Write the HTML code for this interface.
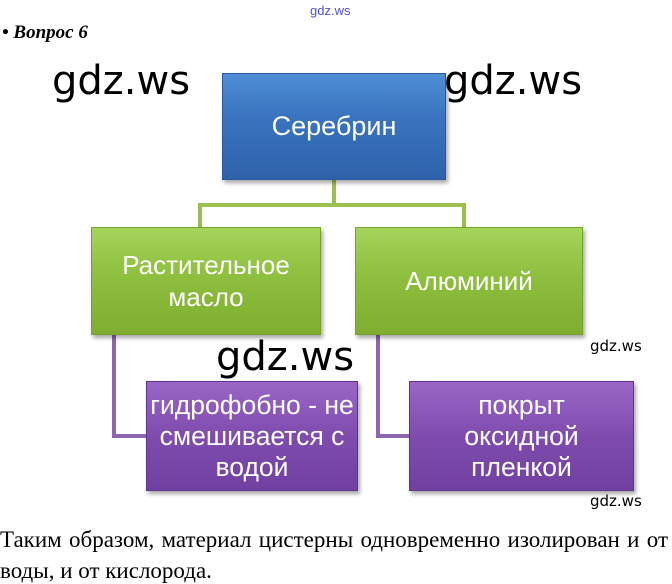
<!DOCTYPE html>
<html><head><meta charset="utf-8"><style>
body{margin:0;width:672px;height:582px;background:#fff;position:relative;overflow:hidden;font-family:"Liberation Sans","DejaVu Sans",sans-serif}
.a{position:absolute}
.box{position:absolute;display:flex;align-items:center;justify-content:center;text-align:center;color:#fff;box-shadow:2px 3px 4px rgba(0,0,0,.35);box-sizing:border-box;white-space:nowrap}
.blue{background:linear-gradient(#4f8fd6,#3a74c0 40%,#2e62aa);border:1px solid #2a5a9a;font-size:27px}
.green{background:linear-gradient(#a4d45a,#8dbd3c 50%,#7fae30);border:1px solid #76a32c;font-size:26px;line-height:32px}
.purple{background:linear-gradient(#9a66c6,#7f4cae 50%,#7040a0);border:1px solid #603590;font-size:26.5px;line-height:31px}
.wm{position:absolute;font-family:"DejaVu Sans","Liberation Sans",sans-serif;color:#000}
.ln{position:absolute;background:#9cc04f}
.pl{position:absolute;background:#8d66b0}
.t{position:absolute;left:0px;width:668px;font-family:'Liberation Serif',serif;font-size:23px;line-height:26px}
</style></head><body>
<div class="a" style="left:310px;top:3px;font-size:13px;color:#5050d0">gdz.ws</div>
<div class="a" style="left:2px;top:22px;font-family:'Liberation Serif',serif;font-style:italic;font-weight:bold;font-size:19px">• Вопрос 6</div>
<div class="wm" style="left:52px;top:58px;font-size:40px">gdz.ws</div>
<div class="wm" style="left:444px;top:58px;font-size:40px">gdz.ws</div>
<div class="ln" style="left:332px;top:180px;width:4px;height:27px"></div>
<div class="ln" style="left:198px;top:203px;width:268px;height:4px"></div>
<div class="ln" style="left:198px;top:203px;width:4px;height:26px"></div>
<div class="ln" style="left:462px;top:203px;width:4px;height:26px"></div>
<div class="pl" style="left:112px;top:334px;width:4px;height:104px"></div>
<div class="pl" style="left:112px;top:434px;width:36px;height:4px"></div>
<div class="pl" style="left:376px;top:334px;width:4px;height:104px"></div>
<div class="pl" style="left:376px;top:434px;width:36px;height:4px"></div>
<div class="box blue" style="left:222px;top:73px;width:224px;height:107px">Серебрин</div>
<div class="box green" style="left:91px;top:227px;width:230px;height:108px">Растительное<br>масло</div>
<div class="box green" style="left:355px;top:227px;width:228px;height:108px">Алюминий</div>
<div class="box purple" style="left:146px;top:381px;width:212px;height:110px">гидрофобно - не<br>смешивается с<br>водой</div>
<div class="box purple" style="left:409px;top:381px;width:225px;height:110px">покрыт<br>оксидной<br>пленкой</div>
<div class="wm" style="left:216px;top:334px;font-size:40px">gdz.ws</div>
<div class="wm" style="left:590px;top:337px;font-size:15px">gdz.ws</div>
<div class="wm" style="left:590px;top:492px;font-size:15px">gdz.ws</div>
<div class="t" style="top:527px;text-align:justify;text-align-last:justify">Таким образом, материал цистерны одновременно изолирован и от</div>
<div class="t" style="top:558px">воды, и от кислорода.</div>
</body></html>
